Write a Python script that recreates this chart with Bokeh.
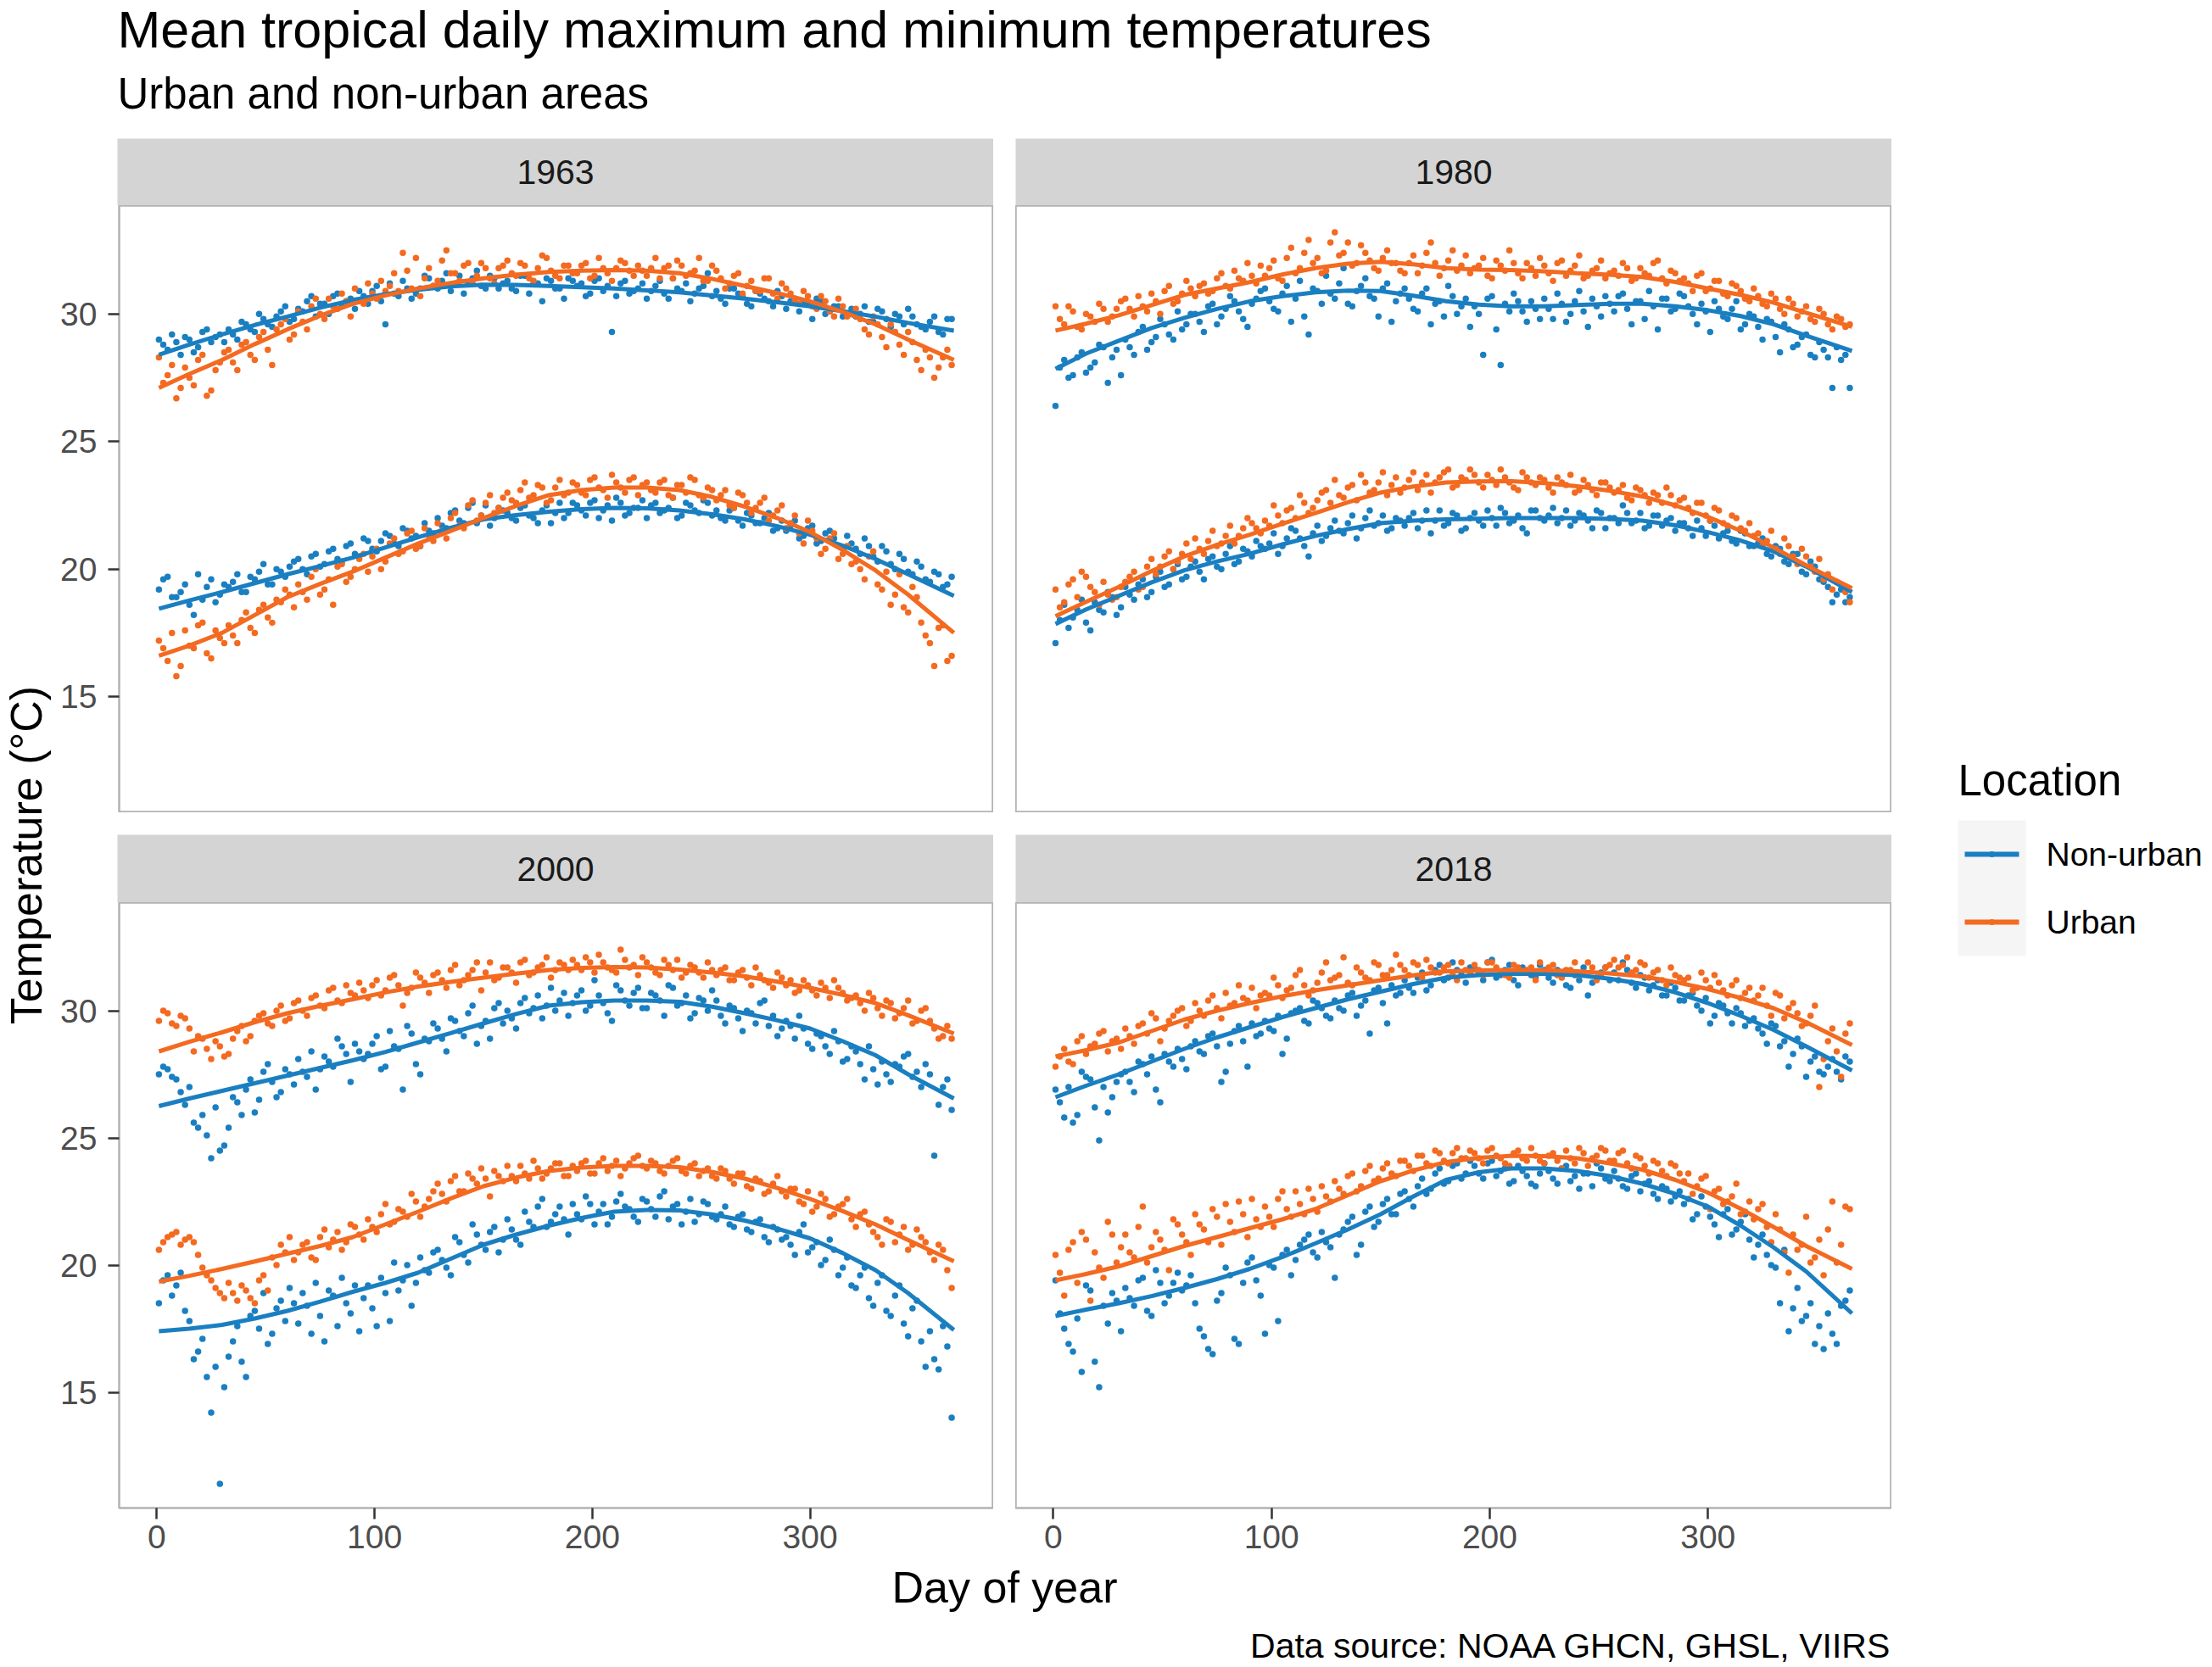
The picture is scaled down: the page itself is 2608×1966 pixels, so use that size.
import math
from bokeh.plotting import figure
from bokeh.models import Range1d, LinearAxis, FixedTicker, Spacer
from bokeh.layouts import row, column
from bokeh.embed import file_html
from bokeh.resources import INLINE
from bokeh.core.properties import value

FONT = "Liberation Sans"
BLUE = "#1a7fc1"
ORANGE = "#f36a20"

years = ["1963", "1980", "2000", "2018"]
locations = ["Non-urban", "Urban"]
x_ticks = [0, 100, 200, 300]
y_ticks = [15, 20, 25, 30]

# ---------- smoothed curves (read at these days) ----------
curve_days = [1, 15, 30, 45, 60, 75, 90, 105, 120, 135, 150, 165, 180, 195, 210, 225, 240, 255, 270, 285, 300, 315, 330, 345, 366]
smooth_tmax_nonurban_1963 = [28.4, 28.8, 29.2, 29.57, 29.9, 30.25, 30.55, 30.78, 30.95, 31.08, 31.15, 31.14, 31.1, 31.05, 31.0, 30.93, 30.85, 30.73, 30.6, 30.46, 30.3, 30.11, 29.9, 29.65, 29.35]
smooth_tmax_urban_1963 = [27.1, 27.65, 28.2, 28.82, 29.4, 29.93, 30.4, 30.73, 31.0, 31.22, 31.4, 31.54, 31.65, 31.7, 31.72, 31.7, 31.6, 31.38, 31.1, 30.82, 30.5, 30.08, 29.6, 29.0, 28.2]
smooth_tmin_nonurban_1963 = [18.45, 18.77, 19.1, 19.45, 19.8, 20.12, 20.45, 20.85, 21.25, 21.62, 21.95, 22.12, 22.25, 22.35, 22.4, 22.38, 22.3, 22.15, 21.95, 21.68, 21.35, 20.92, 20.4, 19.8, 18.95]
smooth_tmin_urban_1963 = [16.6, 17.0, 17.5, 18.2, 18.9, 19.42, 19.9, 20.45, 21.0, 21.5, 22.0, 22.48, 22.9, 23.1, 23.2, 23.2, 23.1, 22.83, 22.45, 22.0, 21.45, 20.75, 19.95, 19.0, 17.5]
smooth_tmax_nonurban_1980 = [27.85, 28.45, 28.95, 29.45, 29.85, 30.2, 30.5, 30.7, 30.85, 30.92, 30.9, 30.72, 30.5, 30.37, 30.3, 30.3, 30.35, 30.4, 30.4, 30.3, 30.15, 29.92, 29.6, 29.15, 28.55]
smooth_tmax_urban_1980 = [29.35, 29.62, 29.95, 30.35, 30.75, 31.0, 31.25, 31.55, 31.8, 31.97, 32.05, 31.95, 31.8, 31.74, 31.72, 31.67, 31.6, 31.54, 31.45, 31.26, 31.0, 30.75, 30.45, 30.05, 29.5]
smooth_tmin_nonurban_1980 = [17.85, 18.42, 18.95, 19.48, 19.95, 20.3, 20.6, 20.97, 21.3, 21.57, 21.8, 21.9, 21.95, 21.98, 22.0, 22.0, 22.0, 21.97, 21.9, 21.72, 21.45, 21.12, 20.7, 20.1, 19.1]
smooth_tmin_urban_1980 = [18.15, 18.72, 19.3, 19.92, 20.5, 20.95, 21.35, 21.78, 22.2, 22.62, 23.0, 23.24, 23.4, 23.44, 23.45, 23.37, 23.25, 23.07, 22.85, 22.5, 22.05, 21.5, 20.85, 20.15, 19.25]
smooth_tmax_nonurban_2000 = [26.25, 26.55, 26.85, 27.15, 27.45, 27.75, 28.05, 28.38, 28.75, 29.12, 29.5, 29.87, 30.2, 30.33, 30.4, 30.4, 30.35, 30.16, 29.9, 29.62, 29.3, 28.8, 28.25, 27.5, 26.55]
smooth_tmax_urban_2000 = [28.4, 28.78, 29.15, 29.55, 29.9, 30.19, 30.45, 30.72, 30.95, 31.13, 31.3, 31.46, 31.6, 31.68, 31.72, 31.7, 31.62, 31.5, 31.35, 31.14, 30.9, 30.62, 30.3, 29.82, 29.1]
smooth_tmin_nonurban_2000 = [17.4, 17.5, 17.65, 17.9, 18.2, 18.56, 18.95, 19.3, 19.7, 20.25, 20.8, 21.2, 21.55, 21.85, 22.1, 22.17, 22.15, 21.99, 21.75, 21.43, 21.05, 20.47, 19.8, 18.9, 17.45]
smooth_tmin_urban_2000 = [19.35, 19.58, 19.85, 20.14, 20.45, 20.75, 21.1, 21.6, 22.1, 22.62, 23.1, 23.44, 23.7, 23.83, 23.9, 23.9, 23.85, 23.66, 23.4, 23.03, 22.6, 22.12, 21.6, 20.98, 20.15]
smooth_tmax_nonurban_2018 = [26.6, 27.05, 27.5, 28.0, 28.5, 28.95, 29.35, 29.75, 30.1, 30.45, 30.75, 31.05, 31.3, 31.4, 31.45, 31.45, 31.4, 31.26, 31.05, 30.72, 30.3, 29.8, 29.25, 28.6, 27.65]
smooth_tmax_urban_2018 = [28.2, 28.45, 28.75, 29.2, 29.65, 30.0, 30.3, 30.57, 30.8, 31.0, 31.2, 31.39, 31.55, 31.58, 31.6, 31.59, 31.55, 31.47, 31.35, 31.13, 30.85, 30.5, 30.1, 29.55, 28.65]
smooth_tmin_nonurban_2018 = [18.0, 18.25, 18.5, 18.78, 19.1, 19.45, 19.85, 20.32, 20.85, 21.4, 22.0, 22.7, 23.35, 23.65, 23.8, 23.8, 23.7, 23.5, 23.2, 22.8, 22.3, 21.55, 20.7, 19.75, 18.1]
smooth_tmin_urban_2018 = [19.4, 19.65, 19.95, 20.35, 20.75, 21.1, 21.45, 21.8, 22.2, 22.75, 23.3, 23.72, 24.05, 24.22, 24.3, 24.28, 24.2, 24.0, 23.75, 23.35, 22.85, 22.22, 21.5, 20.75, 19.85]

# ---------- daily observations, set A (days 1, 5, 9, ...) ----------
point_days_a = list(range(1, 366, 4))
tmax_nonurban_1963_a = [
    29.0, 28.6, 28.9, 29.1, 28.5, 29.3, 28.9, 29.2,
    29.4, 29.0, 29.6, 29.3, 29.8, 29.5, 30.1, 29.7,
    30.2, 30.5, 29.9, 30.4, 30.7, 30.3, 30.6, 30.9,
    30.4, 31.1, 29.6, 30.8, 31.3, 30.6, 31.0, 31.4,
    31.0, 31.6, 31.2, 30.8, 31.4, 31.1, 31.5, 31.0,
    31.3, 30.9, 31.5, 31.2, 30.5, 31.3, 31.0, 31.4,
    31.1, 30.7, 31.3, 30.9, 29.3, 31.2, 30.8, 31.0,
    30.6, 31.1, 30.8, 31.4, 30.9, 30.5, 31.0, 31.6,
    30.9, 30.4, 31.0, 30.7, 30.3, 30.8, 30.5, 30.9,
    30.2, 30.6, 30.4, 29.8, 30.5, 30.1, 30.3, 30.0,
    29.9, 30.3, 29.7, 30.1, 29.5, 29.9, 30.2, 29.6,
    29.4, 29.9, 29.2, 29.8]
tmax_urban_1963_a = [
    28.3, 27.6, 26.7, 27.9, 27.2, 28.4, 27.0, 28.1,
    28.6, 27.8, 28.9, 28.2, 29.3, 28.0, 29.6, 29.0,
    30.1, 29.4, 30.6, 29.8, 30.3, 30.8, 29.9, 30.5,
    31.2, 30.6, 30.9, 31.6, 32.4, 31.0, 30.7, 31.8,
    31.3, 32.5, 31.6, 31.9, 31.2, 32.0, 31.4, 31.8,
    32.1, 31.5, 31.9, 31.3, 32.3, 31.7, 31.4, 31.9,
    31.6, 32.0, 31.5, 31.8, 31.3, 32.1, 31.7, 31.9,
    31.5, 32.2, 31.8, 31.4, 31.9, 31.6, 32.2, 31.3,
    31.7, 31.0, 31.5, 30.8, 31.3, 30.9, 31.4, 30.6,
    31.0, 30.5, 30.9, 30.3, 30.7, 30.1, 30.6, 29.9,
    30.2, 29.4, 29.9, 29.1, 29.6, 28.8, 29.3, 28.2,
    28.6, 27.5, 28.3, 28.0]
tmin_nonurban_1963_a = [
    19.2, 19.7, 18.9, 19.4, 18.2, 18.8, 19.6, 19.0,
    19.3, 19.8, 19.1, 19.6, 20.2, 19.4, 19.9, 20.1,
    20.4, 19.8, 20.6, 20.2, 20.8, 20.3, 21.0, 20.5,
    21.1, 20.7, 21.4, 21.0, 21.6, 21.2, 20.9, 21.5,
    22.0, 21.6, 22.3, 21.8, 22.6, 22.1, 21.7, 22.4,
    22.2, 21.9, 22.5, 22.0, 22.3, 21.8, 22.6, 22.2,
    22.5, 22.1, 22.7, 22.3, 21.9, 22.6, 22.2, 22.4,
    22.0, 22.6, 22.3, 22.8, 22.1, 22.5, 22.2, 22.6,
    22.3, 21.9, 22.4, 21.7, 22.1, 21.8, 22.2, 21.6,
    21.5, 21.9, 21.3, 21.7, 21.1, 21.5, 20.9, 21.3,
    20.8, 21.2, 20.5, 20.9, 20.2, 20.6, 19.9, 20.3,
    19.6, 19.9, 19.3, 19.7]
tmin_urban_1963_a = [
    17.2, 16.4, 15.8, 17.6, 16.9, 17.9, 16.5, 17.3,
    17.8, 17.1, 18.3, 17.5, 18.6, 17.9, 18.7, 19.0,
    19.4, 18.8, 20.0, 19.2, 18.6, 20.2, 19.7, 20.4,
    19.9, 20.8, 20.3, 21.2, 20.7, 21.5, 20.9, 21.3,
    21.8, 21.2, 22.2, 21.6, 22.7, 22.1, 22.9, 22.4,
    23.0, 22.6, 23.4, 22.9, 23.2, 22.7, 23.5, 23.0,
    23.3, 22.9, 23.6, 23.1, 23.7, 23.2, 23.5, 22.9,
    23.4, 23.0, 23.5, 22.8, 23.3, 23.6, 22.9, 23.2,
    22.7, 23.1, 22.4, 22.9, 22.2, 22.6, 21.9, 22.3,
    21.6, 22.1, 21.0, 21.5, 20.6, 21.2, 20.4, 20.9,
    20.3, 19.6, 20.7, 19.2, 18.6, 19.8, 18.3, 18.9,
    17.4, 16.2, 17.8, 16.6]
tmax_nonurban_1980_a = [
    26.4, 28.2, 27.6, 28.5, 27.9, 28.8, 27.3, 28.6,
    29.0, 28.4, 29.5, 28.9, 29.8, 29.2, 30.1, 29.6,
    30.0, 29.3, 30.4, 29.9, 30.7, 30.1, 29.5, 30.6,
    31.0, 30.2, 30.8, 29.7, 31.3, 29.2, 30.9, 31.5,
    30.6, 31.8, 30.3, 31.1, 30.7, 29.9, 31.2, 30.5,
    31.0, 30.2, 30.8, 29.6, 30.5, 31.1, 30.0, 30.6,
    30.3, 28.4, 30.7, 28.0, 30.1, 30.5, 29.7, 30.2,
    30.6, 29.8, 30.4, 30.0, 30.9, 29.5, 30.3, 30.7,
    30.1, 30.8, 29.6, 30.5, 30.9, 29.4, 30.6, 30.2,
    30.7, 30.0, 30.4, 29.3, 30.2, 29.8, 30.5, 29.6,
    29.9, 29.0, 29.7, 28.5, 29.4, 28.8, 29.2, 28.3,
    28.6, 27.1, 28.2, 27.1]
tmax_urban_1980_a = [
    30.3, 29.6, 30.1, 29.4, 29.9, 30.4, 29.7, 30.2,
    30.6, 29.9, 30.3, 30.8, 30.0, 31.1, 30.5, 31.3,
    30.7, 31.2, 30.9, 31.6, 31.0, 31.4, 32.0, 31.2,
    31.5, 32.1, 31.3, 32.6, 31.8, 32.9, 32.2, 31.7,
    33.2, 32.4, 31.9, 32.7, 32.1, 31.7, 32.5, 32.0,
    31.6, 32.3, 31.9, 32.8, 31.5, 32.1, 31.7, 32.3,
    31.8, 32.2, 31.4, 31.9, 32.5, 31.6, 32.0, 31.5,
    31.9, 31.3, 32.1, 31.7, 32.3, 31.5, 31.8, 31.4,
    31.7, 32.0, 31.3, 31.8, 31.5, 32.1, 31.2, 31.6,
    31.4, 30.9, 31.6, 31.0, 31.3, 30.7, 31.1, 30.6,
    31.0, 30.4, 30.8, 30.2, 30.6, 29.9, 30.3, 29.7,
    30.0, 29.4, 29.8, 29.6]
tmin_nonurban_1980_a = [
    17.1, 18.6, 18.1, 18.8, 17.6, 18.4, 19.1, 18.2,
    19.3, 18.8, 19.6, 19.1, 19.9, 19.4, 20.2, 19.7,
    20.3, 19.6, 20.5, 20.0, 20.9, 20.3, 20.7, 21.1,
    20.8, 21.4, 20.9, 21.6, 21.2, 20.5, 21.7, 21.3,
    21.9, 21.4, 22.1, 21.6, 22.3, 21.8, 21.5, 22.0,
    21.7, 22.2, 21.9, 21.4, 22.3, 21.8, 22.1, 21.6,
    22.2, 21.7, 22.0, 22.4, 21.8, 22.1, 21.4, 22.3,
    21.9, 22.4, 22.0, 21.7, 22.2, 21.9, 22.3, 21.6,
    22.0, 22.5, 21.8, 22.2, 21.7, 22.1, 21.9, 21.5,
    21.8, 21.3, 21.6, 21.9, 21.2, 21.5, 21.0, 21.4,
    20.9, 21.2, 20.5, 20.8, 20.2, 20.6, 19.8, 20.1,
    19.5, 18.7, 19.2, 18.9]
tmin_urban_1980_a = [
    19.2, 18.7, 19.6, 19.9, 19.3, 18.6, 19.0, 18.9,
    19.5, 19.9, 19.3, 20.4, 20.1, 20.7, 20.3, 21.0,
    21.2, 20.6, 21.5, 21.0, 21.7, 21.3, 22.0, 21.6,
    21.9, 22.5, 21.8, 22.4, 22.9, 22.2, 22.7, 23.1,
    23.5, 22.8, 23.3, 23.7, 23.0, 23.4, 22.9, 23.6,
    23.2, 23.8, 23.4, 23.0, 23.6, 23.9, 23.3, 23.5,
    23.7, 23.2, 23.5, 23.9, 23.4, 23.1, 23.6, 23.3,
    23.5, 23.0, 23.4, 23.7, 23.1, 23.3, 22.9, 23.4,
    23.0, 23.3, 22.7, 23.1, 22.6, 22.9, 23.2, 22.5,
    22.8, 22.2, 22.6, 21.9, 22.3, 21.7, 22.0, 21.5,
    21.3, 20.9, 21.5, 20.6, 20.9, 20.2, 20.5, 19.9,
    19.6, 19.2, 19.4, 18.7]
tmax_nonurban_2000_a = [
    27.5, 27.7, 27.3, 26.3, 25.6, 25.9, 24.2, 24.5,
    25.4, 26.4, 26.9, 26.0, 27.6, 27.2, 26.8, 27.5,
    28.1, 27.4, 26.9, 28.2, 27.8, 28.6, 27.2, 28.4,
    28.3, 29.0, 27.8, 28.6, 26.9, 29.1, 27.5, 28.8,
    29.3, 28.4, 29.6, 29.0, 30.2, 29.4, 28.9, 30.3,
    30.0, 29.3, 30.5, 30.1, 29.7, 30.9, 30.4, 29.8,
    30.6, 30.0, 31.2, 30.3, 29.6, 30.8, 30.2, 30.9,
    30.1, 30.6, 29.8, 30.9, 30.3, 29.7, 30.5, 30.0,
    30.4, 29.5, 30.1, 29.2, 29.9, 30.3, 29.4, 29.0,
    29.6, 28.9, 29.3, 28.5, 29.0, 28.3, 28.8, 28.1,
    28.4, 27.3, 27.7, 28.0, 27.2, 27.8, 28.3, 27.6,
    27.9, 24.3, 27.0, 26.1]
tmax_urban_2000_a = [
    29.6, 29.9, 29.4, 29.7, 28.4, 28.9, 28.1, 28.6,
    28.3, 29.2, 28.8, 29.6, 29.9, 29.4, 30.2, 29.7,
    30.4, 29.8, 30.6, 30.1, 30.9, 30.3, 30.7, 31.1,
    30.5, 31.2, 30.8, 31.4, 30.2, 30.9, 31.3, 30.7,
    31.5, 30.9, 31.8, 31.2, 31.6, 30.8, 31.9, 31.3,
    31.7, 31.1, 32.0, 31.5, 31.8, 31.3, 31.9, 31.6,
    31.8, 32.1, 31.5, 31.9, 31.6, 32.4, 31.7, 31.4,
    31.9, 31.5, 32.0, 31.6, 31.3, 31.8, 31.5, 31.9,
    31.4, 31.7, 31.2, 31.6, 31.0, 31.4, 31.1, 31.5,
    31.0, 30.7, 31.2, 30.8, 31.1, 30.5, 30.9, 30.4,
    30.6, 30.0, 30.5, 29.8, 30.3, 29.9, 30.4, 29.6,
    30.1, 29.3, 29.0, 28.9]
tmin_nonurban_2000_a = [
    18.5, 19.6, 19.2, 18.2, 16.3, 17.1, 14.2, 11.4,
    16.4, 17.6, 15.6, 18.2, 18.9, 17.3, 18.6, 19.1,
    17.7, 18.4, 19.3, 17.0, 18.8, 19.5, 18.1, 17.4,
    19.2, 17.6, 18.9, 20.1, 19.4, 18.4, 20.3, 19.7,
    20.6, 19.9, 21.1, 20.4, 21.6, 20.8, 21.3, 20.5,
    21.8, 21.0, 22.1, 21.5, 22.6, 21.7, 22.3, 21.2,
    22.0, 22.7, 21.6, 22.4, 21.9, 22.8, 22.2, 21.7,
    22.5, 21.9, 22.9, 22.3, 21.6, 22.6, 22.0, 22.4,
    21.8, 22.3, 21.5, 22.0, 21.3, 21.8, 20.9, 21.4,
    21.1, 20.4, 21.6, 20.7, 20.0, 21.0, 19.6, 20.3,
    19.1, 19.9, 18.4, 19.6, 18.0, 19.2, 17.2, 18.6,
    16.0, 16.3, 17.6, 14.0]
tmin_urban_2000_a = [
    20.6, 21.1, 21.3, 21.0, 20.9, 19.9, 19.4, 18.9,
    19.3, 18.6, 19.0, 18.5, 19.6, 20.3, 20.8, 21.1,
    20.5, 20.9, 20.2, 21.4, 21.0, 20.6, 21.6, 21.2,
    21.8, 21.3, 22.4, 21.7, 22.1, 22.8, 21.9, 22.6,
    23.2, 22.5, 23.5, 22.9, 23.4, 23.8, 22.7, 23.5,
    23.9, 23.3, 23.6, 24.1, 23.4, 23.8, 24.0, 23.5,
    23.7, 24.1, 23.6, 24.2, 23.9, 23.5, 24.0, 24.3,
    23.8, 24.0, 23.6, 24.1, 23.7, 23.9, 23.5, 23.8,
    23.4, 23.7, 23.2, 23.6, 23.0, 23.3, 22.9, 23.5,
    22.7, 23.0, 22.4, 22.1, 22.8, 21.9, 22.3, 22.6,
    21.5, 22.1, 21.3, 20.8, 21.7, 21.2, 20.6, 21.4,
    20.9, 20.2, 20.6, 19.1]
tmax_nonurban_2018_a = [
    26.9, 25.8, 25.6, 27.6, 27.3, 24.9, 26.0, 27.2,
    27.6, 26.8, 27.9, 28.2, 26.4, 28.0, 28.5, 27.7,
    28.8, 28.3, 29.1, 27.2, 28.7, 29.4, 27.8, 29.0,
    29.6, 29.2, 28.3, 29.9, 30.1, 29.5, 30.3, 29.8,
    30.4, 30.0, 30.7, 30.2, 29.1, 30.9, 29.5, 30.6,
    31.2, 30.7, 31.5, 31.0, 31.8, 31.3, 31.6, 31.1,
    31.7, 31.2, 32.0, 31.4, 31.8, 31.0, 31.5, 31.3,
    31.6, 31.1, 31.4, 30.9, 31.2, 30.6, 31.3, 31.7,
    31.5, 31.9, 31.1, 31.4, 30.8, 31.2, 30.6, 30.9,
    30.4, 30.7, 30.0, 29.5, 30.3, 29.9, 30.1, 29.4,
    29.7, 29.1, 29.5, 28.6, 27.8, 28.9, 27.4, 28.2,
    27.5, 28.1, 27.3, 28.0]
tmax_urban_2018_a = [
    27.8, 28.5, 27.9, 29.0, 28.6, 29.1, 28.4, 28.9,
    29.3, 28.7, 29.5, 29.9, 28.8, 29.6, 30.0, 29.4,
    30.3, 29.8, 30.6, 29.7, 30.2, 31.0, 30.4, 30.1,
    30.7, 31.3, 30.5, 30.9, 31.6, 30.6, 31.1, 31.9,
    31.3, 32.1, 31.0, 31.5, 31.2, 31.8, 31.4, 32.2,
    31.6, 31.9, 31.3, 31.7, 31.5, 31.8, 31.2, 31.6,
    31.8, 31.4, 31.9, 31.5, 31.3, 31.7, 31.6, 31.2,
    31.5, 31.8, 31.3, 31.6, 31.4, 31.9, 31.2, 31.7,
    32.0, 31.8, 31.5, 31.9, 31.3, 31.6, 31.0, 31.4,
    31.2, 30.8, 31.5, 30.9, 31.1, 30.6, 31.2, 30.7,
    30.4, 30.9, 29.8, 30.6, 30.1, 29.9, 29.5, 30.2,
    28.1, 29.3, 27.4, 29.5]
tmin_nonurban_2018_a = [
    19.4, 17.5, 16.6, 15.8, 19.0, 15.2, 17.7, 18.6,
    19.1, 18.4, 19.5, 18.0, 19.3, 18.8, 19.7, 19.2,
    18.5, 17.2, 16.5, 18.9, 19.6, 16.9, 20.1, 19.4,
    17.3, 19.9, 20.4, 19.6, 20.8, 21.2, 20.3, 20.9,
    19.5, 21.4, 21.9, 20.8, 22.3, 21.7, 22.6, 22.0,
    22.9, 22.3, 23.4, 23.0, 23.8, 23.3, 24.0, 23.6,
    23.9, 23.4, 24.1, 23.7, 23.2, 23.9, 23.5, 23.1,
    24.0, 23.4, 23.8, 23.3, 23.0, 23.6, 24.0, 23.4,
    23.7, 23.1, 23.5, 22.9, 23.3, 22.6, 23.0, 22.7,
    22.4, 21.8, 22.7, 21.9, 21.1, 22.2, 21.4, 22.0,
    20.3, 21.2, 20.0, 18.5, 17.4, 19.1, 18.0, 16.9,
    16.7, 17.3, 18.4, 19.0]
tmin_urban_2018_a = [
    20.4, 18.8, 20.9, 21.3, 18.6, 19.9, 21.7, 20.1,
    21.2, 20.3, 22.3, 20.7, 21.0, 19.8, 21.6, 20.9,
    22.0, 21.4, 22.2, 20.8, 21.7, 22.5, 21.1, 21.8,
    22.3, 21.5, 22.9, 21.9, 22.4, 23.0, 22.1, 22.7,
    23.3, 22.8, 23.6, 23.1, 23.9, 23.4, 24.0, 23.5,
    24.1, 23.7, 24.3, 23.9, 24.4, 24.0, 24.6, 24.2,
    24.4, 24.0, 24.6, 24.2, 23.9, 24.5, 24.1, 24.3,
    24.0, 24.4, 23.8, 24.2, 24.6, 23.9, 24.3, 24.5,
    24.1, 24.5, 23.8, 24.2, 23.6, 24.0, 23.5, 23.9,
    23.3, 22.8, 23.4, 22.2, 23.0, 22.5, 23.2, 22.1,
    21.8, 22.4, 20.9, 21.4, 19.7, 20.6, 21.9, 20.3,
    19.6, 22.5, 20.8, 22.2]

# ---------- daily observations, set B (days 3, 7, 11, ...) ----------
point_days_b = list(range(3, 366, 4))
tmax_nonurban_1963_b = [
    28.8, 29.2, 28.4, 29.0, 28.7, 29.4, 29.1, 28.9,
    29.2, 29.7, 29.4, 30.0, 29.6, 29.9, 30.3, 29.8,
    30.1, 30.7, 30.4, 30.0, 30.8, 30.5, 30.2, 30.7,
    30.9, 30.5, 31.2, 30.7, 31.0, 30.8, 31.5, 31.1,
    31.3, 30.9, 31.5, 31.2, 31.7, 31.0, 31.4, 31.2,
    31.0, 31.5, 30.8, 31.2, 31.4, 31.0, 30.6, 31.3,
    31.2, 30.8, 31.4, 31.1, 30.7, 31.3, 30.9, 31.2,
    30.9, 31.3, 30.6, 31.0, 31.2, 30.8, 31.1, 30.7,
    30.6, 31.0, 30.8, 30.4, 30.9, 30.6, 30.3, 30.7,
    30.5, 30.1, 30.4, 30.6, 30.0, 30.3, 29.9, 30.2,
    30.0, 29.7, 30.2, 29.8, 30.0, 29.6, 29.9, 29.5,
    29.7, 29.3, 29.8]
tmax_urban_1963_b = [
    27.3, 28.0, 27.1, 27.5, 28.2, 26.8, 27.8, 28.5,
    28.1, 28.8, 28.4, 29.1, 28.6, 29.4, 29.8, 29.2,
    29.7, 30.3, 30.0, 30.6, 30.2, 30.5, 31.0, 30.4,
    30.8, 31.3, 31.1, 30.9, 31.7, 32.2, 31.4, 31.1,
    32.1, 31.6, 31.3, 32.0, 31.5, 31.8, 31.2, 31.9,
    31.6, 32.0, 31.4, 31.8, 32.2, 31.5, 31.9, 31.6,
    31.9, 31.4, 32.2, 31.6, 31.8, 32.0, 31.5, 31.7,
    31.8, 31.4, 31.9, 32.1, 31.5, 31.7, 31.3, 31.9,
    31.4, 31.2, 31.6, 31.1, 30.9, 31.4, 30.8, 31.2,
    30.8, 30.4, 30.7, 30.2, 30.5, 29.9, 30.3, 30.0,
    29.8, 29.2, 29.6, 28.7, 29.3, 28.4, 28.9, 27.8,
    28.3, 27.9, 28.6]
tmin_nonurban_1963_b = [
    19.6, 18.9, 19.1, 18.6, 19.8, 19.3, 18.7, 19.4,
    19.5, 19.1, 19.7, 19.9, 19.4, 20.0, 19.7, 20.3,
    20.0, 20.5, 20.1, 20.7, 20.4, 20.9, 20.6, 21.2,
    20.8, 21.1, 21.3, 20.9, 21.5, 21.3, 21.8, 21.4,
    21.7, 22.2, 21.9, 22.4, 21.8, 22.5, 22.0, 22.3,
    22.0, 22.4, 22.1, 21.8, 22.5, 22.2, 22.0, 22.6,
    22.3, 22.6, 22.0, 22.5, 22.8, 22.1, 22.4, 22.7,
    22.5, 22.2, 22.4, 22.0, 22.6, 22.3, 22.7, 22.1,
    22.0, 22.3, 21.9, 22.2, 21.8, 22.0, 21.5, 21.9,
    21.7, 21.2, 21.6, 21.0, 21.4, 21.2, 20.8, 21.0,
    20.6, 20.9, 20.3, 20.7, 20.0, 20.4, 19.8, 20.1,
    19.5, 19.8, 19.4]
tmin_urban_1963_b = [
    16.9, 17.5, 16.2, 17.0, 17.8, 16.7, 17.6, 17.1,
    17.4, 18.0, 17.7, 18.4, 18.1, 18.8, 19.2, 18.5,
    19.1, 19.7, 19.0, 19.6, 20.1, 19.5, 20.0, 20.6,
    20.5, 20.0, 21.0, 20.6, 21.4, 20.8, 21.6, 21.1,
    21.5, 22.0, 21.7, 22.5, 21.9, 22.6, 22.2, 22.8,
    22.7, 23.1, 22.8, 23.3, 22.6, 23.2, 22.9, 23.4,
    23.0, 23.5, 23.2, 22.8, 23.4, 23.0, 23.6, 23.3,
    23.1, 23.4, 22.9, 23.3, 23.0, 23.5, 22.8, 23.1,
    22.9, 22.5, 23.0, 22.6, 22.4, 22.8, 22.1, 22.5,
    21.8, 21.4, 21.9, 21.2, 20.8, 21.4, 20.6, 20.2,
    20.0, 20.5, 19.4, 19.9, 19.0, 18.5, 19.3, 17.9,
    17.1, 17.7, 16.4]
tmax_nonurban_1980_b = [
    27.9, 27.5, 28.3, 27.7, 28.1, 28.7, 28.3, 27.6,
    28.7, 29.3, 28.6, 29.1, 29.6, 29.0, 29.4, 30.0,
    29.7, 30.3, 29.6, 30.2, 30.5, 29.8, 30.4, 30.9,
    30.5, 30.1, 31.1, 30.6, 29.9, 31.0, 30.4, 30.8,
    31.2, 30.4, 30.9, 31.4, 30.6, 31.0, 29.7, 30.8,
    30.6, 30.1, 31.0, 30.4, 29.9, 30.7, 30.3, 29.5,
    30.0, 30.6, 29.4, 30.4, 30.8, 30.1, 30.5, 29.8,
    30.2, 30.8, 29.7, 30.5, 30.1, 30.6, 29.9, 30.4,
    30.7, 30.2, 30.5, 29.8, 30.3, 30.6, 30.1, 30.8,
    30.3, 29.6, 30.1, 30.5, 29.9, 30.2, 29.4, 30.0,
    29.5, 29.8, 29.1, 29.6, 28.7, 29.1, 28.4, 28.9,
    28.3, 28.7, 28.4]
tmax_urban_1980_b = [
    29.8, 30.3, 29.5, 30.0, 29.7, 30.2, 29.9, 30.5,
    30.2, 30.7, 30.1, 30.5, 30.9, 30.4, 30.8, 31.0,
    31.1, 30.8, 31.4, 31.1, 31.7, 31.3, 31.5, 31.9,
    31.8, 31.4, 32.2, 31.6, 32.4, 32.0, 31.6, 32.8,
    32.3, 32.8, 32.0, 32.4, 31.8, 32.2, 32.0, 31.7,
    32.0, 31.6, 32.4, 32.0, 31.8, 32.5, 31.9, 31.6,
    31.9, 31.5, 32.1, 31.7, 32.0, 31.4, 31.8, 32.2,
    31.6, 32.0, 31.5, 31.9, 31.4, 31.7, 32.1, 31.6,
    31.5, 31.8, 31.4, 31.6, 32.0, 31.4, 31.7, 31.3,
    31.2, 31.5, 30.9, 31.3, 30.8, 31.2, 30.9, 30.5,
    30.7, 30.3, 30.6, 30.0, 30.4, 30.1, 29.8, 30.2,
    29.6, 29.9, 29.5]
tmin_nonurban_1980_b = [
    18.0, 17.7, 18.4, 17.9, 18.7, 18.3, 18.9, 18.5,
    19.0, 19.4, 18.9, 19.7, 19.3, 20.0, 19.6, 20.1,
    19.9, 20.4, 20.1, 20.6, 20.2, 20.8, 20.5, 20.9,
    21.0, 20.6, 21.2, 21.5, 20.9, 21.4, 21.1, 21.6,
    21.5, 21.8, 21.2, 22.0, 21.7, 22.1, 21.6, 21.9,
    22.0, 21.6, 22.3, 21.9, 21.7, 22.2, 21.5, 22.0,
    21.9, 22.3, 21.7, 22.2, 21.9, 21.6, 22.3, 22.0,
    22.1, 21.8, 22.3, 21.9, 22.1, 21.6, 22.2, 22.0,
    21.8, 22.2, 21.9, 21.6, 22.1, 21.7, 22.0, 21.8,
    21.6, 21.9, 21.3, 21.7, 21.4, 21.1, 21.5, 20.9,
    21.0, 20.6, 20.9, 20.3, 20.6, 19.9, 20.3, 19.6,
    19.3, 19.0, 18.7]
tmin_urban_1980_b = [
    18.5, 19.4, 18.9, 19.7, 19.1, 19.5, 18.8, 19.3,
    19.7, 19.2, 20.1, 19.8, 20.5, 20.0, 20.6, 20.4,
    20.8, 21.1, 20.9, 21.3, 21.0, 21.6, 21.8, 21.4,
    21.7, 22.1, 22.3, 22.0, 22.6, 22.4, 23.0, 22.6,
    22.9, 23.2, 22.7, 23.4, 23.1, 23.8, 23.3, 23.0,
    23.5, 23.1, 23.7, 23.4, 23.8, 23.2, 23.6, 23.9,
    23.4, 23.7, 23.3, 23.6, 23.2, 23.8, 23.4, 23.6,
    23.2, 23.6, 23.3, 23.0, 23.5, 23.1, 23.4, 23.2,
    23.1, 22.8, 23.2, 22.9, 23.0, 22.6, 22.9, 22.7,
    22.4, 22.6, 22.1, 22.4, 21.8, 22.1, 21.6, 21.8,
    21.4, 21.1, 20.8, 21.2, 20.5, 20.8, 20.1, 20.4,
    19.8, 19.5, 19.1]
tmax_nonurban_2000_b = [
    27.8, 27.4, 26.8, 27.0, 25.4, 25.1, 26.2, 24.7,
    26.6, 25.9, 27.3, 26.5, 27.9, 26.6, 27.7, 27.1,
    27.6, 28.4, 27.7, 28.0, 28.9, 28.3, 28.7, 28.1,
    28.7, 27.7, 29.2, 28.5, 29.4, 27.9, 28.9, 29.5,
    28.9, 29.7, 29.2, 29.9, 28.7, 29.6, 30.1, 29.5,
    29.7, 30.3, 29.9, 30.6, 30.2, 30.0, 30.7, 30.3,
    30.8, 30.2, 30.6, 29.9, 31.0, 30.4, 30.7, 30.1,
    30.7, 30.4, 31.0, 30.2, 30.6, 29.9, 30.4, 30.8,
    29.8, 30.2, 29.7, 30.0, 29.5, 30.4, 29.8, 29.3,
    29.4, 29.8, 28.7, 29.1, 28.6, 29.2, 28.0, 28.6,
    27.9, 28.6, 27.1, 27.5, 27.9, 28.2, 27.4, 27.0,
    27.5, 26.3, 27.3]
tmax_urban_2000_b = [
    30.0, 29.5, 29.8, 29.3, 29.0, 28.5, 28.8, 28.2,
    28.9, 29.4, 29.0, 29.8, 29.5, 30.0, 29.6, 30.3,
    30.0, 30.5, 30.2, 30.8, 30.4, 31.0, 30.6, 30.8,
    31.0, 30.6, 31.3, 31.0, 30.7, 31.5, 31.1, 31.4,
    31.2, 31.6, 31.0, 31.4, 31.9, 31.5, 31.2, 31.7,
    31.5, 31.9, 31.4, 31.7, 32.1, 31.6, 31.8, 32.0,
    31.6, 31.9, 32.2, 31.7, 31.5, 32.0, 31.8, 32.1,
    31.7, 31.4, 31.8, 32.0, 31.5, 31.7, 31.3, 31.6,
    31.6, 31.2, 31.5, 31.3, 31.7, 31.2, 30.9, 31.3,
    31.2, 30.8, 31.0, 30.6, 30.9, 31.2, 30.7, 30.5,
    30.3, 30.7, 30.1, 30.4, 29.7, 30.1, 29.5, 30.0,
    29.6, 28.9, 29.4]
tmin_nonurban_2000_b = [
    19.4, 18.8, 19.7, 17.8, 16.6, 15.6, 16.0, 15.2,
    17.0, 16.2, 18.0, 17.5, 16.9, 18.3, 17.8, 18.5,
    18.9, 17.3, 18.0, 19.0, 17.6, 18.5, 19.2, 18.7,
    18.3, 19.5, 17.8, 19.0, 20.0, 19.3, 19.8, 20.5,
    20.2, 19.6, 20.9, 20.1, 21.2, 20.6, 21.5, 21.0,
    21.4, 20.8, 21.7, 22.3, 21.5, 22.0, 21.8, 22.4,
    21.8, 22.4, 22.1, 21.6, 22.5, 22.3, 21.9, 22.6,
    22.2, 22.7, 21.8, 22.4, 22.1, 21.7, 22.5, 21.9,
    22.0, 21.6, 21.9, 21.4, 21.7, 21.1, 21.5, 21.0,
    20.8, 21.3, 20.5, 20.9, 20.2, 20.6, 19.9, 19.2,
    19.6, 18.7, 19.3, 18.2, 18.8, 17.7, 18.3, 17.0,
    17.4, 15.9, 16.8]
tmin_urban_2000_b = [
    20.9, 21.2, 20.8, 21.1, 20.4, 19.6, 19.1, 18.7,
    18.9, 19.2, 18.7, 19.4, 19.0, 20.0, 20.5, 20.2,
    20.8, 20.3, 21.1, 20.7, 21.3, 20.9, 21.5, 21.0,
    21.5, 22.0, 21.6, 22.2, 21.9, 22.5, 22.3, 22.9,
    22.8, 23.3, 22.9, 23.6, 23.2, 23.4, 23.7, 23.3,
    23.5, 23.9, 23.4, 23.8, 23.6, 24.0, 23.5, 23.9,
    24.0, 23.6, 24.0, 23.7, 24.1, 23.8, 24.2, 23.9,
    24.1, 23.7, 23.9, 24.2, 23.6, 24.0, 23.7, 23.5,
    23.8, 23.4, 23.6, 23.1, 23.4, 22.8, 23.2, 22.9,
    23.0, 22.5, 22.9, 22.3, 22.6, 22.0, 22.4, 21.8,
    22.0, 21.6, 21.1, 21.8, 20.9, 21.5, 20.8, 21.1,
    20.5, 20.8, 19.8]
tmax_nonurban_2018_b = [
    26.4, 27.0, 25.9, 27.4, 26.2, 27.0, 26.6, 27.5,
    27.2, 28.0, 27.5, 26.9, 28.3, 27.8, 28.1, 28.6,
    28.4, 29.0, 28.6, 27.6, 29.2, 28.8, 29.5, 29.1,
    29.3, 29.8, 28.9, 30.0, 29.6, 30.4, 30.1, 29.7,
    30.1, 30.6, 29.8, 30.4, 30.8, 30.3, 31.0, 30.7,
    30.9, 31.3, 30.8, 31.6, 31.2, 31.9, 31.4, 31.7,
    31.5, 31.9, 31.3, 31.6, 31.2, 31.7, 31.4, 31.8,
    31.3, 31.6, 31.0, 31.4, 31.7, 31.1, 31.5, 31.2,
    31.2, 31.6, 30.9, 31.3, 31.0, 30.6, 31.1, 30.4,
    30.6, 30.2, 30.5, 29.8, 30.2, 29.5, 29.9, 29.6,
    29.3, 28.7, 29.4, 28.8, 28.3, 28.6, 28.0, 27.6,
    27.8, 27.6, 28.2]
tmax_urban_2018_b = [
    28.2, 28.0, 28.8, 28.3, 28.7, 29.2, 28.8, 28.5,
    29.0, 29.4, 29.1, 29.7, 29.3, 29.8, 30.1, 29.6,
    30.0, 30.4, 30.1, 30.7, 30.3, 30.5, 30.9, 30.6,
    30.6, 31.0, 30.8, 31.4, 31.0, 30.8, 31.5, 31.2,
    31.4, 31.1, 31.7, 31.3, 31.9, 31.4, 31.6, 31.8,
    31.4, 31.8, 32.0, 31.5, 31.7, 31.4, 31.9, 31.5,
    31.6, 31.9, 31.7, 31.4, 31.8, 31.5, 31.7, 31.9,
    31.7, 31.4, 31.6, 31.9, 31.5, 31.7, 31.4, 31.8,
    31.7, 32.1, 31.6, 31.8, 31.5, 31.2, 31.7, 31.3,
    31.3, 30.9, 31.2, 31.4, 30.8, 31.0, 30.5, 30.9,
    30.6, 30.2, 30.7, 29.7, 30.3, 29.4, 29.8, 27.0,
    28.8, 28.4, 29.1]
tmin_nonurban_2018_b = [
    18.1, 16.9, 17.9, 19.2, 16.2, 18.4, 18.9, 17.4,
    18.7, 19.4, 18.2, 19.8, 18.5, 19.3, 19.0, 19.6,
    17.5, 16.7, 18.6, 19.9, 17.1, 19.3, 20.3, 18.8,
    20.0, 17.8, 20.6, 20.2, 21.0, 20.5, 21.3, 20.7,
    21.2, 21.7, 20.4, 22.1, 21.5, 22.4, 22.0, 22.8,
    22.6, 23.1, 22.8, 23.6, 23.2, 23.9, 23.4, 24.1,
    23.6, 24.0, 23.5, 23.8, 23.3, 23.7, 23.2, 23.6,
    23.7, 23.2, 23.9, 23.5, 23.6, 23.1, 23.8, 23.3,
    23.4, 23.0, 23.6, 23.2, 22.8, 23.1, 22.5, 22.9,
    22.6, 22.0, 22.3, 21.6, 22.0, 21.2, 21.7, 21.0,
    20.8, 20.4, 19.9, 20.6, 18.3, 17.8, 18.5, 17.6,
    18.1, 16.9, 18.6]
tmin_urban_2018_b = [
    19.7, 20.6, 19.3, 21.0, 20.5, 19.5, 21.2, 20.7,
    20.5, 21.5, 20.1, 21.3, 20.6, 21.8, 21.2, 20.4,
    21.6, 20.9, 21.9, 22.4, 21.3, 22.0, 22.6, 21.5,
    21.9, 22.6, 22.2, 22.9, 22.0, 22.6, 23.1, 22.5,
    23.0, 23.5, 22.9, 23.7, 23.3, 23.8, 23.6, 24.1,
    23.9, 24.3, 24.0, 24.5, 24.1, 24.4, 24.2, 24.5,
    24.2, 24.5, 24.3, 24.0, 24.4, 24.2, 24.6, 24.1,
    24.3, 24.1, 24.5, 24.0, 24.4, 24.2, 24.6, 24.1,
    24.4, 24.0, 24.3, 23.9, 24.1, 23.7, 24.0, 23.6,
    23.6, 23.1, 23.5, 22.9, 22.4, 22.7, 22.0, 22.5,
    22.2, 21.5, 22.0, 20.5, 21.2, 20.8, 20.1, 21.0,
    21.4, 20.1, 22.3]

point_sets = {
    "1963": {
        "Non-urban": [tmax_nonurban_1963_a, tmin_nonurban_1963_a, tmax_nonurban_1963_b, tmin_nonurban_1963_b],
        "Urban": [tmax_urban_1963_a, tmin_urban_1963_a, tmax_urban_1963_b, tmin_urban_1963_b]},
    "1980": {
        "Non-urban": [tmax_nonurban_1980_a, tmin_nonurban_1980_a, tmax_nonurban_1980_b, tmin_nonurban_1980_b],
        "Urban": [tmax_urban_1980_a, tmin_urban_1980_a, tmax_urban_1980_b, tmin_urban_1980_b]},
    "2000": {
        "Non-urban": [tmax_nonurban_2000_a, tmin_nonurban_2000_a, tmax_nonurban_2000_b, tmin_nonurban_2000_b],
        "Urban": [tmax_urban_2000_a, tmin_urban_2000_a, tmax_urban_2000_b, tmin_urban_2000_b]},
    "2018": {
        "Non-urban": [tmax_nonurban_2018_a, tmin_nonurban_2018_a, tmax_nonurban_2018_b, tmin_nonurban_2018_b],
        "Urban": [tmax_urban_2018_a, tmin_urban_2018_a, tmax_urban_2018_b, tmin_urban_2018_b]},
}
curve_sets = {
    "1963": {"Non-urban": [smooth_tmax_nonurban_1963, smooth_tmin_nonurban_1963],
             "Urban": [smooth_tmax_urban_1963, smooth_tmin_urban_1963]},
    "1980": {"Non-urban": [smooth_tmax_nonurban_1980, smooth_tmin_nonurban_1980],
             "Urban": [smooth_tmax_urban_1980, smooth_tmin_urban_1980]},
    "2000": {"Non-urban": [smooth_tmax_nonurban_2000, smooth_tmin_nonurban_2000],
             "Urban": [smooth_tmax_urban_2000, smooth_tmin_urban_2000]},
    "2018": {"Non-urban": [smooth_tmax_nonurban_2018, smooth_tmin_nonurban_2018],
             "Urban": [smooth_tmax_urban_2018, smooth_tmin_urban_2018]},
}
loc_colors = {"Non-urban": BLUE, "Urban": ORANGE}

# ---------------- layout constants (page pixels) ----------------
TOTAL_W = 2608
YLAB_W = 68
AX_W = 70
AX_H = 64
PANEL_W = 1033
GAP = 26
LEGEND_W = TOTAL_W - YLAB_W - (AX_W + PANEL_W) - GAP - PANEL_W
HEADER_H = 163
FOOTER_H = 122
MID_H = 79 + 716 + GAP + 80 + 714 + AX_H
FOOT_TOP = HEADER_H + MID_H

XR = Range1d(-17.25, 384.25)
YR = Range1d(10.45, 34.25)


def base_fig(width, height, xr, yr, **kw):
    p = figure(width=width, height=height, x_range=xr, y_range=yr, title=None,
               output_backend="svg", toolbar_location=None,
               x_axis_location=None, y_axis_location=None, min_border=0, **kw)
    p.grid.grid_line_color = None
    p.outline_line_color = None
    p.background_fill_color = "white"
    p.border_fill_color = "white"
    return p


def put_text(p, x, y, t, size, color="black", align="left", angle=0.0):
    # y is the vertical centre of the text line
    p.text(x=[x], y=[y], text=[t], text_font=value(FONT), text_font_size=value(size),
           text_color=color, text_align=align, text_baseline="middle", angle=angle)


def style_axis(ax):
    ax.axis_line_color = None
    ax.major_tick_line_color = "#333333"
    ax.major_tick_line_width = 2.5
    ax.major_tick_out = 13
    ax.major_tick_in = 0
    ax.minor_tick_line_color = None
    ax.major_label_text_font = FONT
    ax.major_label_text_font_size = "39px"
    ax.major_label_text_color = "#4d4d4d"


def make_panel(year, left, bottom):
    w = PANEL_W + (AX_W if left else 0)
    h = (714 + AX_H) if bottom else 716
    p = base_fig(w, h, XR, YR, min_border_left=AX_W if left else 0,
                 min_border_bottom=AX_H if bottom else 0)
    p.outline_line_color = "#b3b3b3"
    p.outline_line_width = 2.5
    if left:
        ay = LinearAxis(ticker=FixedTicker(ticks=y_ticks))
        style_axis(ay)
        ay.major_label_standoff = 13
        p.add_layout(ay, "left")
    if bottom:
        ax = LinearAxis(ticker=FixedTicker(ticks=x_ticks))
        style_axis(ax)
        ax.major_label_standoff = 7
        p.add_layout(ax, "below")
    for loc in locations:
        c = loc_colors[loc]
        tmax_a, tmin_a, tmax_b, tmin_b = point_sets[year][loc]
        for days, vals in ((point_days_a, tmax_a), (point_days_a, tmin_a),
                           (point_days_b, tmax_b), (point_days_b, tmin_b)):
            n = min(len(days), len(vals))
            p.scatter(days[:n], vals[:n], size=7.5, fill_color=c, line_color=None)
    for loc in locations:
        c = loc_colors[loc]
        for vals in curve_sets[year][loc]:
            p.line(curve_days, vals, line_width=5, line_color=c)
    return p


def make_strip(year, left, h):
    w = PANEL_W + (AX_W if left else 0)
    s = base_fig(w, h, Range1d(0, 1), Range1d(0, 1), min_border_left=AX_W if left else 0)
    s.background_fill_color = "#d4d4d4"
    put_text(s, 0.5, 0.5, year, "41px", color="#1a1a1a", align="center")
    return s


# header
header = base_fig(TOTAL_W, HEADER_H, Range1d(0, TOTAL_W), Range1d(HEADER_H, 0))
put_text(header, 138, 34, "Mean tropical daily maximum and minimum temperatures", "61px")
put_text(header, 138, 110, "Urban and non-urban areas", "51px")

# y label
ylab = base_fig(YLAB_W, MID_H, Range1d(0, YLAB_W), Range1d(0, MID_H))
put_text(ylab, 30, MID_H - 845, "Temperature (\u00b0C)", "52px", align="center", angle=math.pi / 2)

# panels
grid = column(
    row(make_strip(years[0], True, 79), Spacer(width=GAP, height=79), make_strip(years[1], False, 79)),
    row(make_panel(years[0], True, False), Spacer(width=GAP, height=716), make_panel(years[1], False, False)),
    Spacer(width=AX_W + 2 * PANEL_W + GAP, height=GAP),
    row(make_strip(years[2], True, 80), Spacer(width=GAP, height=80), make_strip(years[3], False, 80)),
    row(make_panel(years[2], True, True), Spacer(width=GAP, height=714 + AX_H), make_panel(years[3], False, True)),
)

# legend
leg = base_fig(LEGEND_W, MID_H, Range1d(0, LEGEND_W), Range1d(MID_H, 0))
put_text(leg, 78, 757, "Location", "51px")
leg.quad(left=[78], right=[158], top=[804], bottom=[964], fill_color="#f5f5f5", line_color=None)
for i, loc in enumerate(locations):
    c = loc_colors[loc]
    yy = 844 + 80 * i
    leg.segment(x0=[86], x1=[150], y0=[yy], y1=[yy], line_color=c, line_width=6)
    leg.scatter([118], [yy], size=7, fill_color=c, line_color=None)
    put_text(leg, 182, yy, loc, "39px")

# footer
footer = base_fig(TOTAL_W, FOOTER_H, Range1d(0, TOTAL_W), Range1d(FOOTER_H, 0))
put_text(footer, 1184, 1871 - FOOT_TOP, "Day of year", "52px", align="center")
put_text(footer, 2230, 1940 - FOOT_TOP, "Data source: NOAA GHCN, GHSL, VIIRS", "41px", align="right")

layout = column(header, row(ylab, grid, leg), footer)

open("out.html", "w").write(file_html(layout, INLINE))
